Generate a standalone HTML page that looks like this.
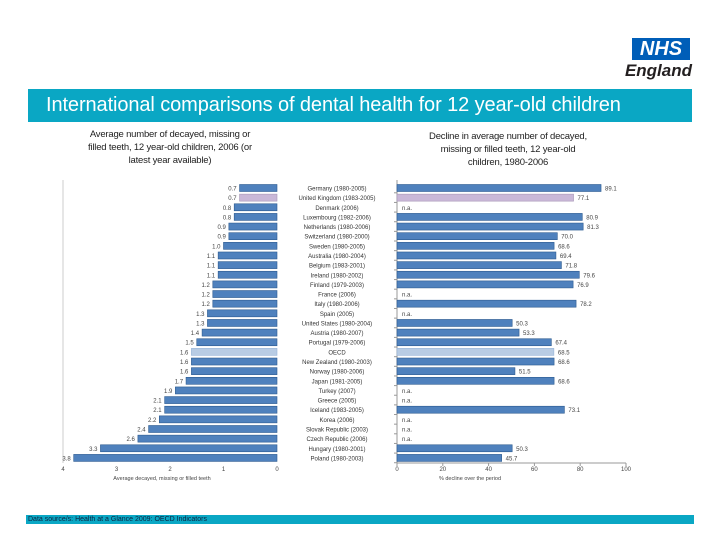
<!DOCTYPE html>
<html><head><meta charset="utf-8"><style>
body{margin:0;width:720px;height:540px;background:#fff;font-family:"Liberation Sans",sans-serif;overflow:hidden;position:relative}
.abs{position:absolute}
</style></head><body>
<div class="abs" style="left:632px;top:38px;width:58px;height:22px;background:#005eb8;color:#fff;font:italic bold 20px 'Liberation Sans',sans-serif;text-align:center;line-height:22px">NHS</div>
<div class="abs" style="left:612px;top:61px;width:80px;text-align:right;color:#231f20;font:italic bold 17px 'Liberation Sans',sans-serif">England</div>
<div class="abs" style="left:28px;top:89px;width:664px;height:33px;background:#0aa7c4;color:#fff;font-size:20px;line-height:33px;padding-left:18px;box-sizing:border-box;letter-spacing:-0.1px;white-space:nowrap">International comparisons of dental health for 12 year-old children</div>
<div class="abs" style="left:40px;top:128px;width:260px;text-align:center;font-size:9.5px;line-height:13px;color:#222;white-space:nowrap;letter-spacing:-0.2px">Average number of decayed, missing or<br>filled teeth, 12 year-old children, 2006 (or<br>latest year available)</div>
<div class="abs" style="left:380px;top:130px;width:256px;text-align:center;font-size:9.5px;line-height:13px;color:#222;white-space:nowrap;letter-spacing:-0.2px">Decline in average number of decayed,<br>missing or filled teeth, 12 year-old<br>children, 1980-2006</div>
<div class="abs" style="left:26px;top:515px;width:666px;height:9px;background:#0aa7c4;font-size:7px;line-height:9px;color:#0c2340;padding-left:2px">Data source/s: Health at a Glance 2009: OECD Indicators</div>
<svg class="abs" style="left:0;top:0" width="720" height="540" id="chart"></svg>
<script>
const countries=["Germany (1980-2005)","United Kingdom (1983-2005)","Denmark (2006)","Luxembourg (1982-2006)","Netherlands (1980-2006)","Switzerland (1980-2000)","Sweden (1980-2005)","Australia (1980-2004)","Belgium (1983-2001)","Ireland (1980-2002)","Finland (1979-2003)","France (2006)","Italy (1980-2006)","Spain (2005)","United States (1980-2004)","Austria (1980-2007)","Portugal (1979-2006)","OECD","New Zealand (1980-2003)","Norway (1980-2006)","Japan (1981-2005)","Turkey (2007)","Greece (2005)","Iceland (1983-2005)","Korea (2006)","Slovak Republic (2003)","Czech Republic (2006)","Hungary (1980-2001)","Poland (1980-2003)"];
const dmft=[0.7,0.7,0.8,0.8,0.9,0.9,1.0,1.1,1.1,1.1,1.2,1.2,1.2,1.3,1.3,1.4,1.5,1.6,1.6,1.6,1.7,1.9,2.1,2.1,2.2,2.4,2.6,3.3,3.8];
const decline=[89.1,77.1,null,80.9,81.3,70.0,68.6,69.4,71.8,79.6,76.9,null,78.2,null,50.3,53.3,67.4,68.5,68.6,51.5,68.6,null,null,73.1,null,null,null,50.3,45.7];
const leftTicks=[4,3,2,1,0];
const rightTicks=[0,20,40,60,80,100];
const svg=document.getElementById('chart');const NS='http://www.w3.org/2000/svg';
function mk(t,a,txt){const e=document.createElementNS(NS,t);for(const k in a)e.setAttribute(k,a[k]);if(txt!=null)e.textContent=txt;svg.appendChild(e);return e;}
const lx=v=>277-v*53.5, rx=v=>397+v*2.29, ry=i=>188+i*9.64;
const barH=7, fillC=i=>countries[i]==="OECD"?"#b8cce4":(i===1?"#c9b8d8":"#4f81bd");
const strokeC=i=>countries[i]==="OECD"?"#95b3d7":(i===1?"#a898b8":"#2c5a8f");
let e=mk('line',{x1:63,y1:180,x2:63,y2:463,stroke:'#ccc'});
e=mk('line',{x1:397,y1:180,x2:397,y2:463,stroke:'#999'});
e=mk('line',{x1:397,y1:463,x2:626,y2:463,stroke:'#999'});
dmft.forEach((v,i)=>{const y=ry(i);
 let b=mk('rect',{x:lx(v),y:y-barH/2,width:lx(0)-lx(v),height:barH,fill:fillC(i),stroke:strokeC(i),'stroke-width':0.6});
 
 let t=mk('text',{x:lx(v)-3,y:y+2.5,'font-size':6,'text-anchor':'end',fill:'#444'},v.toFixed(1));
 
 t=mk('text',{x:337,y:y+2.5,'font-size':6,'text-anchor':'middle',fill:'#333'},countries[i]);
 
 let k=mk('line',{x1:394,y1:y+4.8,x2:397,y2:y+4.8,stroke:'#999'});
 const d=decline[i];
 if(d==null){t=mk('text',{x:rx(0)+5,y:y+2.5,'font-size':6,fill:'#444'},'n.a.');}
 else{b=mk('rect',{x:rx(0),y:y-barH/2,width:rx(d)-rx(0),height:barH,fill:fillC(i),stroke:strokeC(i),'stroke-width':0.6});
  
  t=mk('text',{x:rx(d)+4,y:y+2.5,'font-size':6,fill:'#444'},d.toFixed(1));}
 
});
leftTicks.forEach(v=>{const t=mk('text',{x:lx(v),y:471,'font-size':6,'text-anchor':'middle',fill:'#444'},v);});
rightTicks.forEach(v=>{const t=mk('text',{x:rx(v),y:471,'font-size':6,'text-anchor':'middle',fill:'#444'},v);
 const k=mk('line',{x1:rx(v),y1:463,x2:rx(v),y2:466,stroke:'#999'});});
e=mk('text',{x:162,y:480,'font-size':5.5,'text-anchor':'middle',fill:'#444'},'Average decayed, missing or filled teeth');
e=mk('text',{x:470,y:480,'font-size':5.5,'text-anchor':'middle',fill:'#444'},'% decline over the period');
</script>
</body></html>
